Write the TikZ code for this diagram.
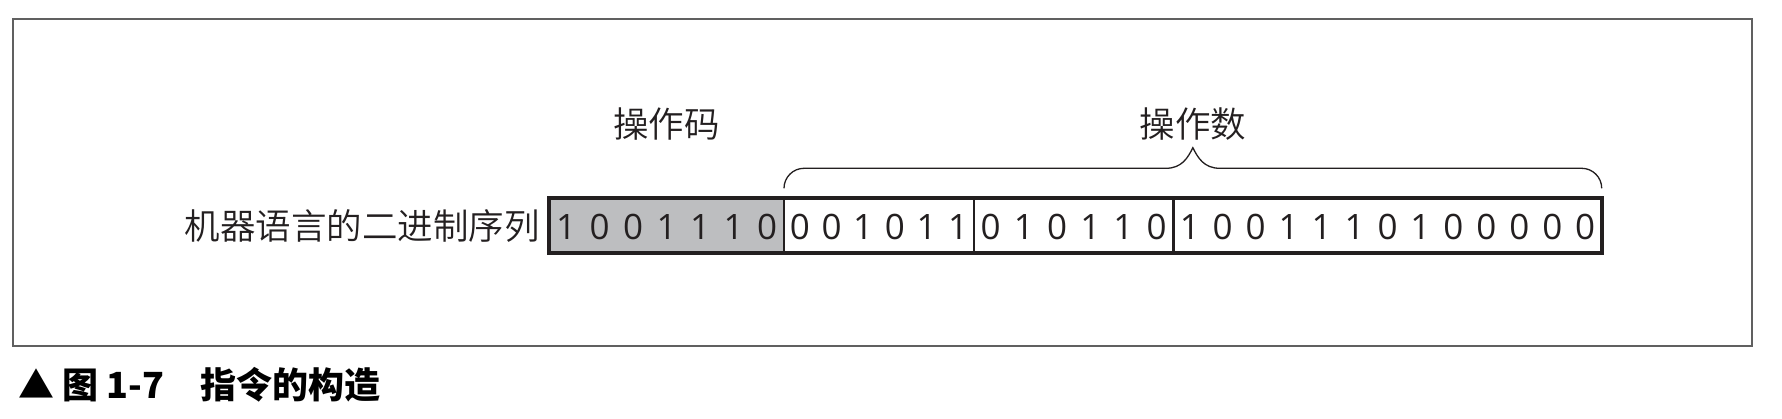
\documentclass[tikz,border=0pt]{standalone}
\usepackage{fontspec}
\setmainfont{Open Sans}
\IfFontExistsTF{Noto Sans CJK SC DemiLight}
  {\newfontfamily\cjk{Noto Sans CJK SC DemiLight}}
  {\IfFontExistsTF{Noto Sans CJK SC Light}
    {\newfontfamily\cjk{Noto Sans CJK SC Light}}
    {\newfontfamily\cjk{Noto Sans CJK SC}}}
\newfontfamily\cjkcap{Noto Sans CJK SC}
\newfontfamily\digitfont{Open Sans}
\usetikzlibrary{calc}
\definecolor{framegray}{HTML}{606060}
\definecolor{barline}{HTML}{231F20}
\definecolor{textc}{HTML}{231F20}
\definecolor{opgray}{HTML}{BDBEC0}
\begin{document}
\begin{tikzpicture}[x=1pt,y=-1pt,
  framebox/.style={draw=framegray,line width=2pt,inner sep=0pt,outer sep=0pt},
  cell/.style={draw=barline,line width=2.7pt,minimum height=55pt,inner sep=0pt,outer sep=0pt},
  bitstyle/.style={font=\digitfont\fontsize{35}{40}\selectfont,text=textc,inner sep=0pt},
  lab/.style={font=\cjk\fontsize{35.5}{40}\selectfont,text=textc,inner sep=0pt},
  capt/.style={font=\cjkcap\bfseries\fontsize{36}{40}\selectfont,text=black,inner sep=0pt},
  bracel/.style={draw=barline,line width=1.3pt}]
\useasboundingbox (0,0) rectangle (1782,419);
\fill[white] (0,0) rectangle (1782,419);
% outer frame
\node[framebox, minimum width=1738.4pt, minimum height=326.7pt] (fr) at (882.5,182.35) {};
% cells
\node[cell, fill=opgray, minimum width=234.7pt] (b1) at (666.65,225.8) {};
\node[cell, fill=white, minimum width=190pt] (b2) at (879,225.8) {};
\node[cell, fill=white, minimum width=199.3pt] (b3) at (1073.65,225.8) {};
\node[cell, fill=white, minimum width=428.4pt] (b4) at (1387.5,225.8) {};
\draw[barline, line width=3.8pt] (b1.north west) rectangle (b4.south east);
% digits
\foreach \d [count=\i] in {1,0,0,1,1,1,0}
  \path (b1.west) ++({(\i-0.5)*234.7/7},1.5) node[bitstyle] (da\i) {\d};
\foreach \d [count=\i] in {0,0,1,0,1,1}
  \path (b2.west) ++({(\i-0.5)*190/6},1.5) node[bitstyle] (db\i) {\d};
\foreach \d [count=\i] in {0,1,0,1,1,0}
  \path (b3.west) ++({(\i-0.5)*199.3/6},1.5) node[bitstyle] (dc\i) {\d};
\foreach \d [count=\i] in {1,0,0,1,1,1,0,1,0,0,0,0,0}
  \path (b4.west) ++({(\i-0.5)*428.4/13},1.5) node[bitstyle] (dd\i) {\d};
% brace
\coordinate (bl) at ([yshift=10pt]b2.north west);
\coordinate (br) at ([yshift=10pt]b4.north east);
\coordinate (tip) at ($(bl)!0.5!(br)+(0,-40.6)$);
\draw[bracel] (bl) .. controls ($(bl)+(0,-11)$) and ($(bl)+(9,-20)$) .. ($(bl)+(20,-20)$)
  -- ($(tip)+(-27,20.6)$) .. controls ($(tip)+(-11,20.6)$) and ($(tip)+(-5,10)$) .. (tip)
  .. controls ($(tip)+(5,10)$) and ($(tip)+(11,20.6)$) .. ($(tip)+(27,20.6)$)
  -- ($(br)+(-20,-20)$) .. controls ($(br)+(-9,-20)$) and ($(br)+(0,-11)$) .. (br);
% labels
\node[lab] (opc) at (666.65,124) {操作码};
\node[lab] (opd) at (tip |- opc) {操作数};
\node[lab, anchor=east] (ml) at (540,226) {机器语言的二进制序列};
% caption
\node[capt, anchor=west] (cap) at (18,385) {▲ 图 1-7　指令的构造};
\end{tikzpicture}
\end{document}
